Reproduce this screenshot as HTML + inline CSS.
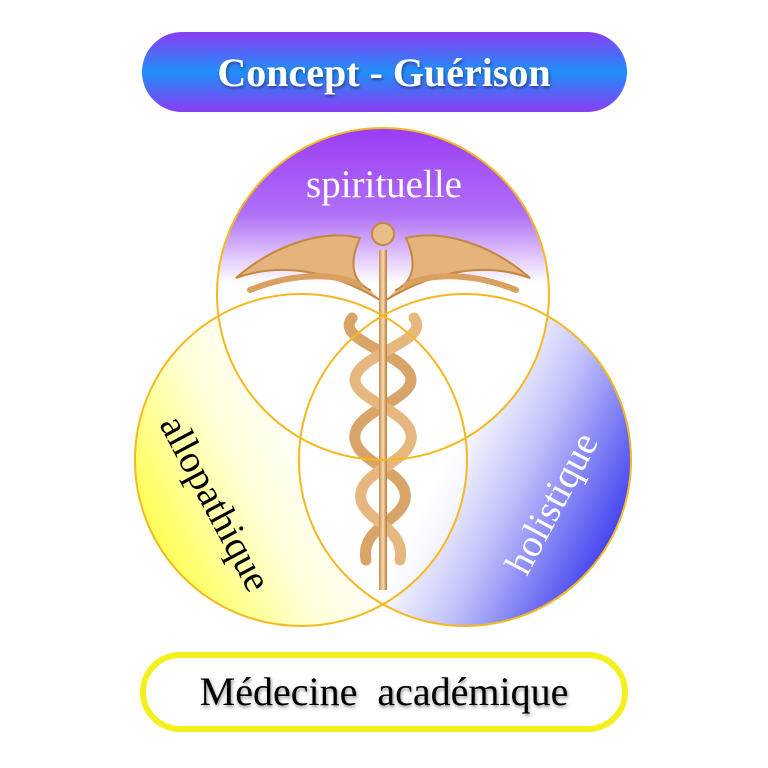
<!DOCTYPE html>
<html><head><meta charset="utf-8"><style>
html,body{margin:0;padding:0;background:#fff;}
svg{display:block}
text{font-family:"Liberation Serif",serif}
</style></head><body>
<svg width="768" height="768" viewBox="0 0 768 768" xmlns="http://www.w3.org/2000/svg">
<defs>
<linearGradient id="pill" x1="0" y1="0" x2="0" y2="1">
<stop offset="0" stop-color="#8b3cf5"/><stop offset="0.5" stop-color="#1e8ff8"/><stop offset="1" stop-color="#8b3cf5"/>
</linearGradient>
<linearGradient id="top" x1="0" y1="0" x2="0" y2="1">
<stop offset="0" stop-color="#9a3cf6"/><stop offset="0.28" stop-color="#b070f6"/><stop offset="0.5" stop-color="#ffffff"/><stop offset="1" stop-color="#ffffff"/>
</linearGradient>
<linearGradient id="left" x1="0" y1="0.65" x2="0.6" y2="0.35">
<stop offset="0" stop-color="#ffff50"/><stop offset="0.5" stop-color="#ffffd8"/><stop offset="0.85" stop-color="#ffffff"/>
</linearGradient>
<linearGradient id="right" x1="1" y1="0.65" x2="0.4" y2="0.35">
<stop offset="0" stop-color="#4040f0"/><stop offset="0.5" stop-color="#c0c0fa"/><stop offset="0.85" stop-color="#ffffff"/>
</linearGradient>
<linearGradient id="gold" x1="0" y1="0" x2="1" y2="0">
<stop offset="0" stop-color="#c98a4a"/><stop offset="0.5" stop-color="#f8dcb0"/><stop offset="1" stop-color="#b87838"/>
</linearGradient>
<filter id="sh" x="-10%" y="-30%" width="120%" height="160%"><feDropShadow dx="1" dy="2" stdDeviation="1.5" flood-color="#000" flood-opacity="0.45"/></filter>
</defs>
<rect x="142" y="32" width="485" height="80" rx="40" fill="url(#pill)"/>
<text x="384" y="86" font-size="40" font-weight="bold" fill="#fff" text-anchor="middle" filter="url(#sh)">Concept - Guérison</text>

<circle cx="301" cy="460" r="166" fill="url(#left)"/>
<circle cx="465" cy="460" r="166" fill="url(#right)"/>
<path d="M217,294 A166,166 0 0 1 549,294 A166,166 0 0 1 465,438 A166,166 0 0 0 301,438 A166,166 0 0 1 217,294 Z" fill="url(#top)"/>
<circle cx="383" cy="294" r="166" fill="url(#top)" opacity="0"/>
<!-- white lens areas -->
<path d="M383,317 A166,166 0 0 1 467,460 A166,166 0 0 1 383,604 A166,166 0 0 1 299,460 A166,166 0 0 1 383,317 Z" fill="#fff" opacity="0.6"/>

<!-- caduceus -->
<g fill="none" stroke="#d9a060" stroke-linecap="round">
<path d="M380,300 C330,270 280,262 236,278 C270,248 320,228 360,238 C350,260 350,280 370,290" fill="#e4b47c" stroke="#c48640" stroke-width="2"/>
<path d="M386,300 C436,270 486,262 530,278 C496,248 446,228 406,238 C416,260 416,280 396,290" fill="#e4b47c" stroke="#c48640" stroke-width="2"/>
<path d="M250,290 C300,270 340,275 360,285" stroke-width="6"/>
<path d="M516,290 C466,270 426,275 406,285" stroke-width="6"/>
<circle cx="383" cy="234" r="11" fill="#e8be88" stroke="#c48640" stroke-width="2"/>
<path d="M352,318 C335,340 400,352 410,375 C420,400 350,410 355,440 C360,465 410,472 405,500 C400,522 360,528 366,560" stroke="#d8a468" stroke-width="11"/>
<path d="M414,318 C431,340 366,352 356,375 C346,400 416,410 411,440 C406,465 356,472 361,500 C366,522 406,528 400,560" stroke="#e6b880" stroke-width="11"/>
</g>
<rect x="379" y="250" width="8" height="340" fill="url(#gold)"/>

<g fill="none" stroke="#f5b820" stroke-width="2">
<circle cx="301" cy="460" r="166"/>
<circle cx="465" cy="460" r="166"/>
<circle cx="383" cy="294" r="166"/>
</g>

<text x="384" y="197" font-size="39" fill="#fff" text-anchor="middle">spirituelle</text>
<text transform="translate(212,505) rotate(62)" font-size="39" fill="#000" text-anchor="middle" dominant-baseline="middle">allopathique</text>
<text transform="translate(555,505) rotate(-62)" font-size="39" fill="#fff" text-anchor="middle" dominant-baseline="middle">holistique</text>

<rect x="143" y="655" width="482" height="74" rx="37" fill="#fff" stroke="#f5ef1c" stroke-width="6"/>
<text x="384" y="705" font-size="40" fill="#000" text-anchor="middle" filter="url(#sh)" xml:space="preserve">Médecine  académique</text>
</svg>
</body></html>
